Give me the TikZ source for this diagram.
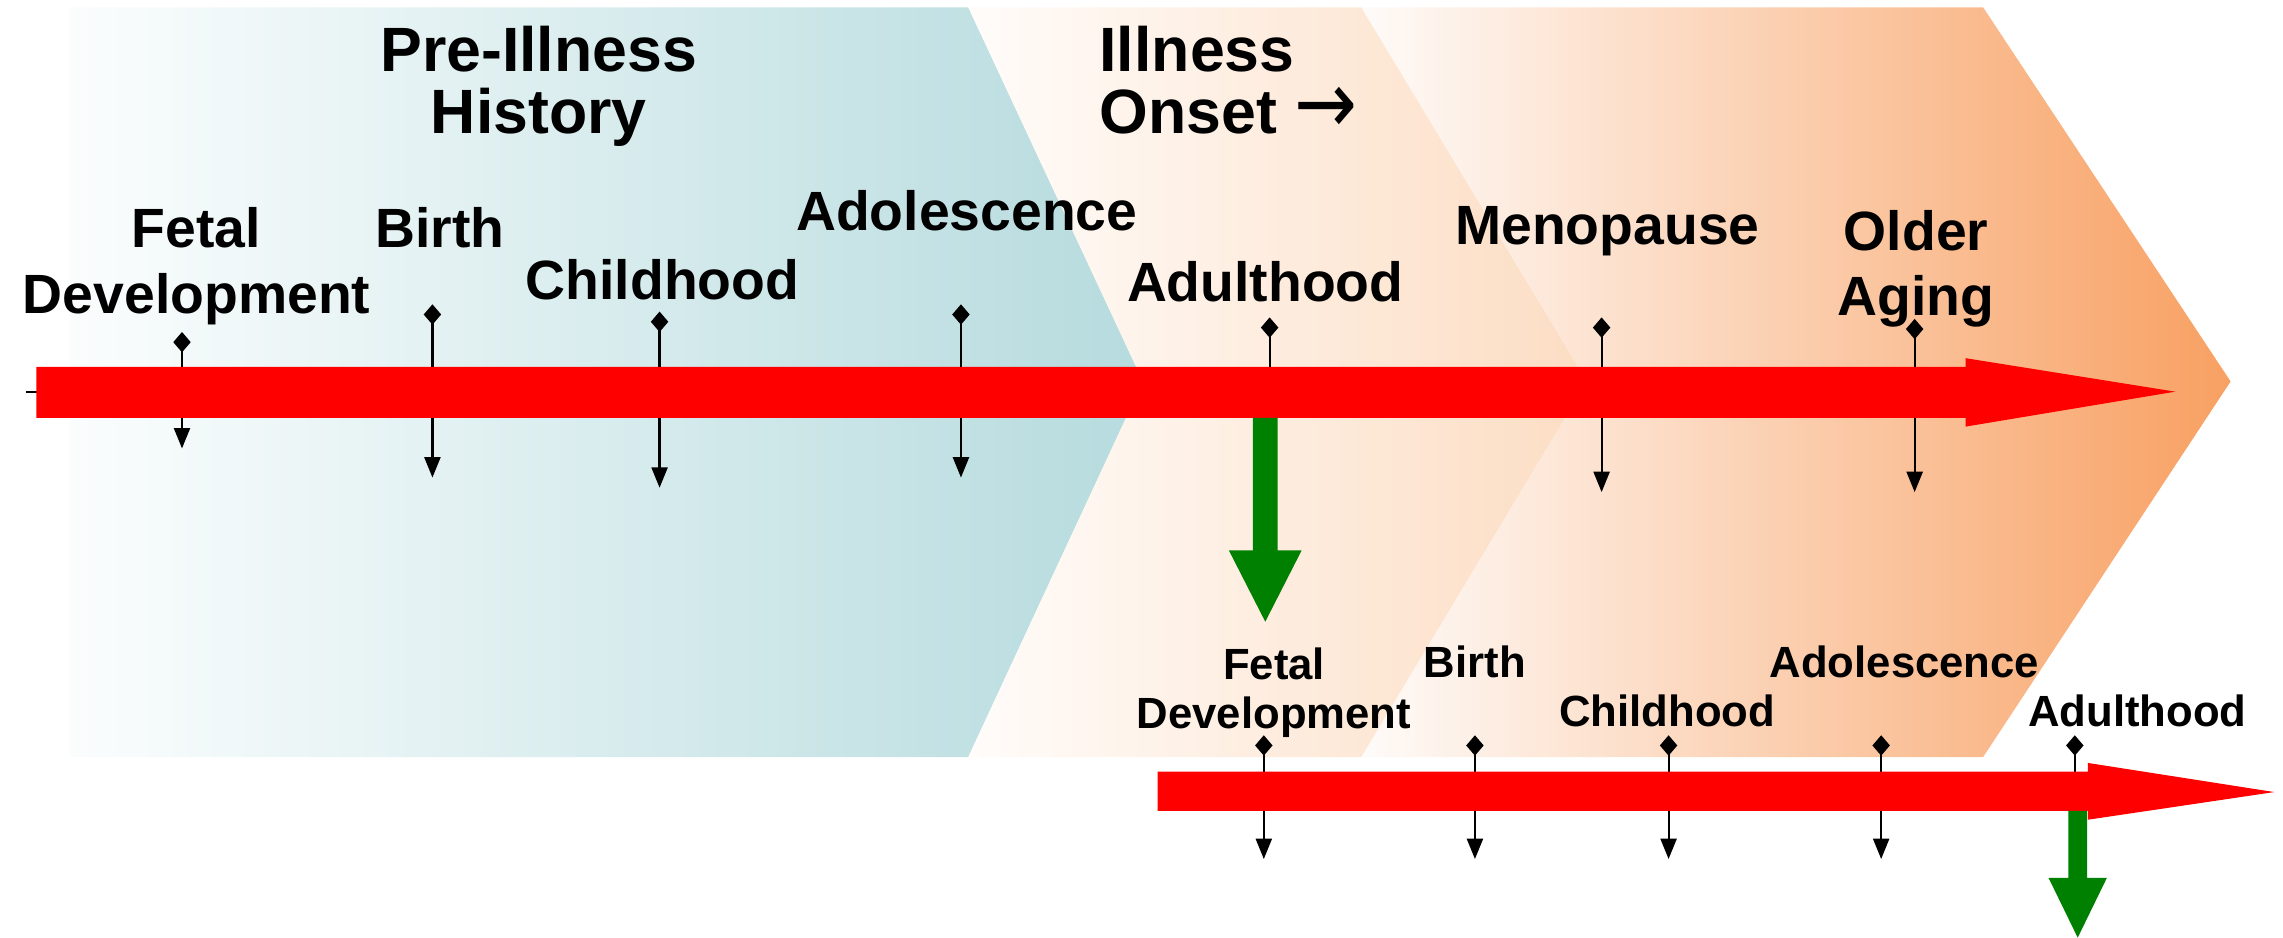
\documentclass[tikz,border=0pt]{standalone}
\usepackage{fontspec}
\setmainfont{Liberation Sans}
\newfontfamily\arrowfont{DejaVu Sans}
\usetikzlibrary{arrows.meta}
\definecolor{cOneL}{HTML}{FBFDFD}
\definecolor{cOneR}{HTML}{B6DBDE}
\definecolor{cTwoL}{HTML}{FFFCFA}
\definecolor{cTwoR}{HTML}{FCDDC3}
\definecolor{cThrL}{HTML}{FEFBF9}
\definecolor{cThrM}{HTML}{FCDBC6}
\definecolor{cThrR}{HTML}{F8A062}
\definecolor{arrRed}{HTML}{FF0000}
\definecolor{arrGreen}{HTML}{008000}
\tikzset{
  tickln/.style={line width=1.5pt, {Diamond[length=14pt,width=12pt]}-{Triangle[length=14pt,width=11pt]}},
  tickstub/.style={line width=1.5pt, {Diamond[length=14pt,width=12pt]}-},
  bigttl/.style={font=\bfseries\fontsize{43}{43}\selectfont, inner sep=0pt, anchor=base},
  lbl/.style={font=\bfseries\fontsize{38}{45}\selectfont, inner sep=0pt, anchor=base, align=center},
  smlbl/.style={font=\bfseries\fontsize{30}{33}\selectfont, inner sep=0pt, anchor=base, align=center},
  redarrow/.style={fill=arrRed, draw=none},
  greenarrow/.style={fill=arrGreen, draw=none}
}
\begin{document}
\begin{tikzpicture}[x=1pt,y=-1pt]
\useasboundingbox (0,0) rectangle (1568,644);
% chevrons
\shade[left color=cOneL, right color=cOneR] (48,5) -- (665,5) -- (785,262) -- (665,520) -- (48,520) -- cycle;
\shade[left color=cTwoL, right color=cTwoR] (665,5) -- (935,5) -- (1090,262) -- (935,520) -- (665,520) -- (785,262) -- cycle;
\shade[left color=cThrL, middle color=cThrM, right color=cThrR] (935,5) -- (1362,5) -- (1532,262) -- (1362,520) -- (935,520) -- (1090,262) -- cycle;

% titles (anchor = baseline of last line)
\node[bigttl, align=center] (pre) at (370,92) {Pre-Illness\\History};
\node[bigttl, align=left, anchor=base west] (onset) at (755,92) {Illness\\Onset {\arrowfont\mdseries\scalebox{1.2}[1.4]{→}}};

% main labels
\node[lbl] (lfetal) at (135,215) {Fetal\\Development};
\node[lbl] (lbirth) at (302,170) {Birth};
\node[lbl] (lchild) at (455,206) {Childhood};
\node[lbl] (ladol) at (664,158) {Adolescence};
\node[lbl] (ladult) at (869,207) {Adulthood};
\node[lbl] (lmeno) at (1104,168) {Menopause};
\node[lbl] (lold) at (1316,217) {Older\\Aging};

% main ticks
\coordinate (t1a) at (125,228); \coordinate (t1b) at (125,308);
\coordinate (t2a) at (297,209); \coordinate (t2b) at (297,328);
\coordinate (t3a) at (453,214); \coordinate (t3b) at (453,335);
\coordinate (t4a) at (660,209); \coordinate (t4b) at (660,328);
\coordinate (t5a) at (872,218); \coordinate (t5b) at (872,270);
\coordinate (t6a) at (1100,218); \coordinate (t6b) at (1100,338);
\coordinate (t7a) at (1315,219); \coordinate (t7b) at (1315,338);
\draw[tickln] (t1a) -- (t1b);
\draw[tickln] (t2a) -- (t2b);
\draw[tickln] (t3a) -- (t3b);
\draw[tickln] (t4a) -- (t4b);
\draw[tickstub] (t5a) -- (t5b);
\draw[tickln] (t6a) -- (t6b);
\draw[tickln] (t7a) -- (t7b);
\coordinate (axl) at (18,269); \coordinate (axr) at (27,269);
\draw[line width=1.5pt] (axl) -- (axr);

% main red arrow
\fill[redarrow] (25,252) -- (1350,252) -- (1350,246) -- (1494,269) -- (1350,293) -- (1350,287) -- (25,287) -- cycle;
% main green arrow
\fill[greenarrow] (860.5,287) -- (877.5,287) -- (877.5,378) -- (894,378) -- (869,427) -- (844,378) -- (860.5,378) -- cycle;

% lower labels
\node[smlbl] (sfetal) at (875,500) {Fetal\\Development};
\node[smlbl] (sbirth) at (1013,465) {Birth};
\node[smlbl] (schild) at (1145,499) {Childhood};
\node[smlbl] (sadol) at (1308,465) {Adolescence};
\node[smlbl] (sadult) at (1468,499) {Adulthood};

% lower ticks
\coordinate (s1a) at (868,505); \coordinate (s1b) at (868,590);
\coordinate (s2a) at (1013,505); \coordinate (s2b) at (1013,590);
\coordinate (s3a) at (1146,505); \coordinate (s3b) at (1146,590);
\coordinate (s4a) at (1292,505); \coordinate (s4b) at (1292,590);
\coordinate (s5a) at (1425,505); \coordinate (s5b) at (1425,544);
\draw[tickln] (s1a) -- (s1b);
\draw[tickln] (s2a) -- (s2b);
\draw[tickln] (s3a) -- (s3b);
\draw[tickln] (s4a) -- (s4b);
\draw[tickstub] (s5a) -- (s5b);

% lower red arrow
\fill[redarrow] (795,530) -- (1434,530) -- (1434,524) -- (1562,544) -- (1434,563) -- (1434,557) -- (795,557) -- cycle;
% lower green arrow
\fill[greenarrow] (1420.5,557) -- (1433.5,557) -- (1433.5,603) -- (1447,603) -- (1427,644) -- (1407,603) -- (1420.5,603) -- cycle;
\end{tikzpicture}
\end{document}
